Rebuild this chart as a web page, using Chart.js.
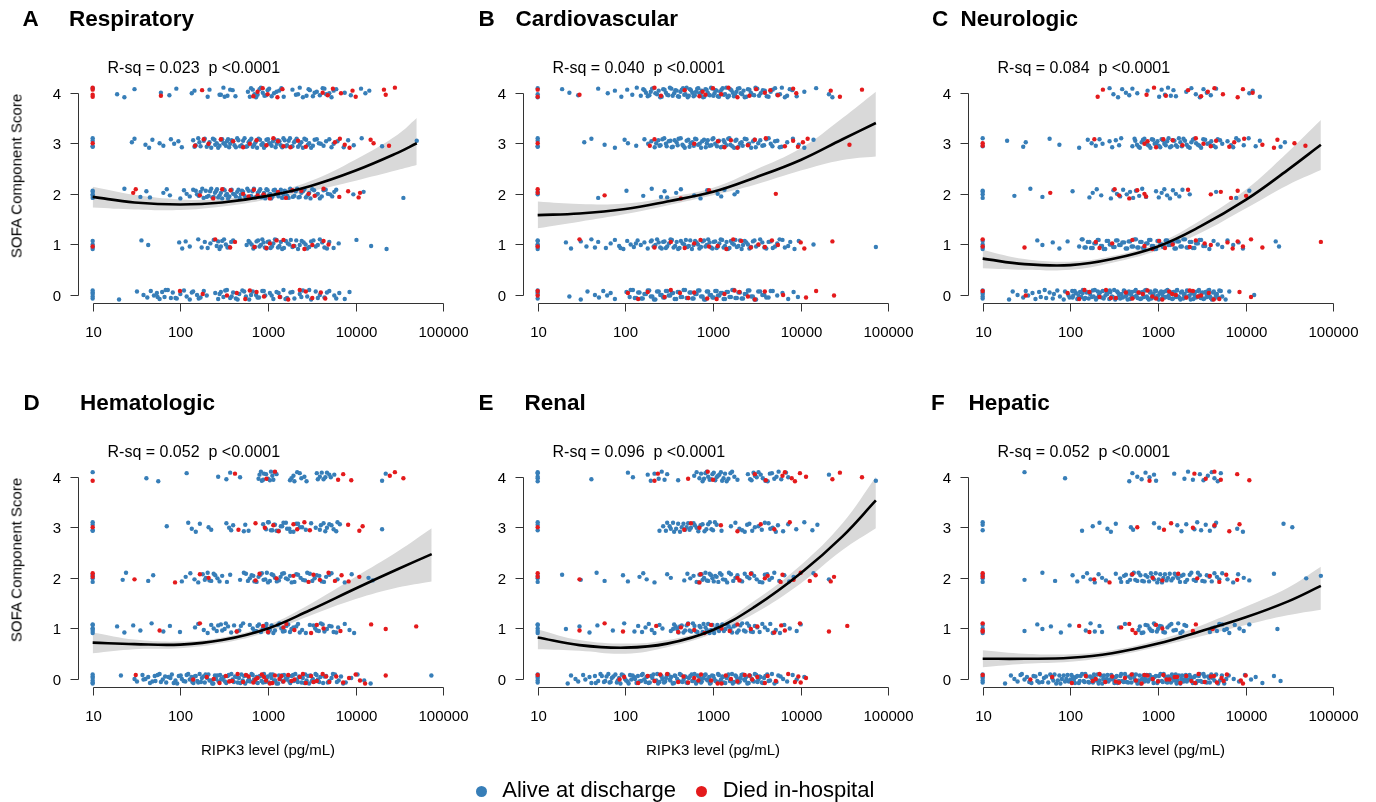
<!DOCTYPE html>
<html>
<head>
<meta charset="utf-8">
<script src="https://cdn.jsdelivr.net/npm/chart.js@4.4.1/dist/chart.umd.min.js"></script>
<style>
  body { margin: 0; background: #fff; width: 1376px; height: 802px; position: relative; overflow: hidden;
         font-family: "Liberation Sans", Arial, sans-serif; color: #000; }
  canvas { position: absolute; }
  .t { position: absolute; white-space: pre; line-height: 1; }
  .dot { position: absolute; border-radius: 50%; }
</style>
</head>
<body>
<script>
// ---- categories / labels ----
const SCORES = [0, 1, 2, 3, 4];
const X_TICKS = [10, 100, 1000, 10000, 100000];
const X_TICK_LABELS = ['10', '100', '1000', '10000', '100000'];
const PANEL_LETTERS = ['A', 'B', 'C', 'D', 'E', 'F'];
const PANEL_TITLES = ['Respiratory', 'Cardiovascular', 'Neurologic', 'Hematologic', 'Renal', 'Hepatic'];
const R_SQ = ['0.023', '0.040', '0.084', '0.052', '0.096', '0.052'];
const P_TEXT = 'p <0.0001';
const GROUPS = ['Alive at discharge', 'Died in-hospital'];
const Y_TITLE = 'SOFA Component Score';
const X_TITLE = 'RIPK3 level (pg/mL)';

// ---- RIPK3 (pg/mL) per SOFA component score, index = score 0..4 ----
// A Respiratory
const respAlive = [
  [10,10,10,10,10,20,32,38,42,46,50,54,58,62,66,72,78,82,91,100,110,118,128,140,155,170,185,200,250,270,290,310,340,370,400,430,470,510,560,610,670,730,790,860,930,1050,1150,1250,1380,1500,1650,1800,2000,2300,2500,2800,3100,3500,3900,4400,5000,5700,6500,7500,8500,
   55,68,88,135,162,280,325,385,450,535,640,760,895,1100,1320,1580,1900,2400,2950,3700,4700,6000],
  [10,10,10,10,36,43,97,105,115,128,160,175,190,205,220,240,260,280,300,330,360,400,570,620,680,740,800,860,920,990,1070,1150,1250,1350,1450,1600,1750,1900,2100,2300,2550,2800,3100,3500,3900,4400,5000,5600,6400,10200,15000,22500,
   600,650,710,770,830,890,960,1030,1110,1200,1300,1400,1520,1680,1820,2000,2200,2420,2680,2950,3300,3700,4150,4700,270,290,315,345,380],
  [10,10,10,10,10,23,35,41,45,64,70,76,100,110,118,128,140,155,170,184,195,210,225,240,255,270,290,310,330,350,375,400,430,460,490,520,560,600,640,690,740,790,840,900,960,1020,1090,1160,1240,1320,1400,1500,1600,1720,1850,2000,2150,2300,2500,2700,2950,3200,3500,3900,4300,4800,5400,6000,9400,12300,35000,
   150,162,178,200,218,232,248,262,280,300,320,340,362,385,415,445,475,505,540,580,620,665,715,765,815,870,930,990,1055,1125,1200,1280,1360,1450,1550,1660,1790,1920,2070,2230,2400,2600,2820,3050,3350,3700,4100,4550,5100,5700],
  [10,10,10,10,28,30,40,44,48,58,64,78,85,95,104,140,150,160,170,185,200,215,235,250,270,290,310,330,350,370,400,430,460,500,540,580,620,670,720,780,840,900,960,1030,1100,1180,1260,1350,1450,1550,1650,1780,1900,2050,2200,2400,2600,2850,3100,3400,3800,4300,5000,5600,6200,7300,8200,9500,11700,20000,49700,
   145,165,190,208,225,245,260,280,300,320,340,360,385,415,445,480,520,560,600,645,695,750,810,870,930,1000,1065,1140,1220,1300,1400,1500,1600,1720,1840,1980,2120,2300,2500,2720,2950,3250,3600,4000,4600,5300],
  [10,19,23,30,60,75,90,135,145,205,215,290,310,345,395,425,590,640,700,730,800,870,950,1030,1170,1340,1510,1900,2080,2300,2750,3000,3250,3600,4200,4600,5300,6000,7500,8800,11500,12900,14300,
   620,670,760,830,910,990,1100,1250,1420,2200,2500,2900,3400,3900,4400,5000,5600,320,370,280]
];
const respDied = [
  [99,340,440,550,740,1360,2300,3200,4000,4500,180,620,900,1700,2700],
  [10,250,370,420,960,1050,1500,1950,2600,4300,4900,700,1250,3200],
  [29,31,167,237,375,520,600,690,890,1300,1600,2400,3400,4300,6500,8200,10800,11200,300,760,1050,1900,2900],
  [10,147,185,210,400,520,740,960,1150,1500,2200,2700,5800,6600,7500,8500,14800,16000,24000,290,620,1300,1800],
  [10,10,10,10,60,177,680,760,870,990,1280,1460,4200,4800,5500,6800,9200,10000,21000,22000,28000]
];
const respFitX = [10, 30, 100, 300, 1000, 3000, 10000, 30000, 49700];
const respFit  = [1.94, 1.83, 1.79, 1.83, 1.96, 2.15, 2.46, 2.81, 3.00];
const respHi   = [2.14, 1.98, 1.89, 1.90, 2.02, 2.25, 2.68, 3.17, 3.50];
const respLo   = [1.73, 1.69, 1.68, 1.75, 1.89, 2.05, 2.26, 2.47, 2.57];

// B Cardiovascular
const cardAlive = [
  [10,10,10,10,23,31,37,45,50,56,62,68,76,103,112,122,133,145,158,172,187,203,220,240,260,280,300,325,350,380,410,445,480,520,560,600,650,700,760,820,880,950,1020,1100,1180,1270,1370,1480,1600,1730,1870,2030,2200,2400,2600,2850,3100,3450,3850,4300,4800,5400,6200,7200,8300,9300,
   115,128,140,152,165,180,195,212,230,250,270,290,312,338,365,395,428,462,500,540,580,625,675,730,790,850,915,985,1060,1140,1225,1320,1425,1540,1660,1800,1950,2120,2300,2500,2720,2970,3280,3650,4050,4550],
  [10,10,10,10,10,10,21,24,31,36,41,45,49,60,68,76,85,95,105,115,125,138,150,165,180,195,210,230,250,270,290,315,340,370,400,430,470,510,550,600,650,700,760,820,880,950,1020,1100,1180,1270,1370,1480,1600,1730,1870,2030,2200,2400,2600,2850,3100,3450,3850,4300,4800,5400,6200,7200,8500,9500,14000,72000,
   200,220,240,260,280,300,328,355,385,415,450,490,530,575,625,675,730,790,850,915,985,1060,1140,1225,1320,1425,1540,1660,1800,1950,2120,2300,2500,2720,2970,3280,3650,4050,4550,5100,5750,6600,7600,88,132],
  [10,10,49,103,160,200,255,280,300,380,430,610,720,860,1130,1240,1350,1760,1900],
  [10,10,10,10,34,41,58,76,98,107,133,165,182,198,216,238,252,278,296,327,348,384,405,448,476,523,555,604,645,706,752,826,871,958,1010,1110,1170,1280,1355,1490,1580,1740,1850,2040,2180,2410,2580,2860,3070,3460,3820,4310,4760,5420,6050,7020,8150,9500,11000,14000,
   225,245,265,290,312,338,365,395,428,462,500,540,580,625,675,730,790,850,915,985,1060,1140,1225,1320,1425,1540,1660,1800,1950,2120,2300,2500,2720,2970,3280,3650,4050,4550,5100,5750],
  [10,10,10,19,23,29,49,63,76,90,105,120,135,150,165,180,195,210,230,250,270,290,310,335,360,385,410,440,470,500,530,560,600,640,680,720,770,820,870,920,980,1040,1100,1170,1250,1330,1420,1520,1620,1730,1850,2000,2150,2300,2500,2700,2950,3200,3500,3900,4300,4800,5400,6100,7000,8000,9000,11000,15000,21000,23000,
   160,172,188,202,220,240,260,280,300,322,347,372,398,425,455,485,515,545,580,620,660,700,745,795,845,895,950,1010,1070,1135,1210,1290,1375,1470,1570,1680,1790,1920,2070,2230,2400,2600,2820,3050,3350,3700,4100,4550,5100,5800,6600,7500]
];
const cardDied = [
  [10,10,107,140,180,280,330,520,610,860,1350,1760,2500,3000,3900,6300,11500,15000,24000,420,1100,2000],
  [10,30,215,330,475,610,720,1130,1420,2100,3300,3900,4700,5500,10000,11000,23000,900,1700,2700],
  [10,10,58,430,900,5200],
  [10,190,215,610,1140,1350,1600,2500,4000,6600,8200,9300,10600,12000,36000,1900,3000],
  [10,10,30,215,255,475,700,760,1000,1240,1900,3100,3900,5500,8200,8900,22000,28000,50000,820,1500,2600,4500]
];
const cardFitX = [10, 30, 100, 300, 1000, 3000, 10000, 30000, 72000];
const cardFit  = [1.58, 1.61, 1.70, 1.85, 2.04, 2.32, 2.67, 3.08, 3.40];
const cardHi   = [1.85, 1.80, 1.81, 1.93, 2.12, 2.47, 2.90, 3.50, 4.02];
const cardLo   = [1.32, 1.45, 1.60, 1.77, 1.97, 2.18, 2.46, 2.67, 2.74];

// C Neurologic
const neuroAlive = [
  [10,10,10,10,10,20,22,25,29,31,33,37,40,44,46,51,53,58,63,65,71,76,84,87,95,98,105,108,116,120,129,134,139,148,153,162,168,180,184,196,205,212,228,234,251,259,278,286,305,316,337,348,370,384,408,422,450,466,494,515,548,566,603,625,664,690,732,760,808,838,890,925,980,1020,1085,1120,1195,1235,1318,1360,1450,1500,1600,1655,1760,1825,1940,2015,2140,2220,2360,2450,2600,2700,2870,2980,3160,3290,3480,3630,3840,4000,4240,4420,4700,5000,5400,5900,6500,12500,
   106,112,124,138,144,158,176,190,200,218,240,264,282,296,325,342,360,395,415,437,458,480,505,530,557,585,614,645,677,711,746,784,823,864,907,952,1000,1050,1100,1160,1220,1280,1340,1410,1480,1550,1630,1710,1800,1880,1980,2080,2180,2290,2410,2530,2650,2790,2930,3070,3220,3380,3560,3740,3920,4120,4330,4560,4850,5200],
  [10,10,10,10,42,48,63,75,93,126,138,150,165,180,195,210,230,250,270,295,320,345,375,410,445,480,520,560,600,650,700,760,820,880,950,1020,1100,1180,1270,1370,1480,1600,1730,1870,2030,2200,2400,2600,2850,3100,3450,3850,4300,4800,5400,6200,7200,8300,9300,22000,24000,
   135,145,158,172,188,205,222,240,260,282,308,332,360,392,428,462,500,540,580,625,675,730,790,850,915,985,1060,1140,1225,1320,1425,1540,1660,1800,1950,2120,2300,2500,2720,2970,3280],
  [10,10,10,10,23,35,48,106,165,180,200,225,290,310,340,370,400,440,480,520,560,610,660,730,950,1020,1100,1180,1270,1370,1480,1600,1750,1900,2300,4600,7800,11000],
  [10,10,19,29,31,58,75,126,158,175,195,215,233,280,300,330,360,380,510,550,600,650,700,760,820,880,950,1020,1100,1180,1270,1370,1480,1600,1730,1870,2030,2200,2400,2600,2850,3100,3450,3850,4300,4800,5400,6200,7200,8300,9500,10800,13000,14500,25000,28000,
   540,575,620,675,730,790,850,915,985,1060,1140,1225,1320,1425,1540,1660,1800,1950,2120,2300,2500,2720,2970,3280,3650,4050,4550,5100,6800,7800],
  [280,310,350,390,430,470,510,580,760,1030,1100,1200,1300,1400,1500,1600,2100,2400,2700,3000,3300,3600,4000,4600,11000,12000,14500]
];
const neuroDied = [
  [10,31,93,126,165,215,255,330,430,510,670,760,860,1120,1340,1600,2100,2500,3100,3800,5000,8500,11500,145,290,600,950,1450,2300,2850,4300],
  [10,10,30,195,215,300,510,700,860,1030,1470,2300,2700,4000,6200,7100,8100,9300,11500,15500,72000,1200,3400],
  [59,320,360,470,580,700,730,2200,4000,5200,6800,8100,10100],
  [10,10,188,700,760,950,1470,1900,2700,4000,4600,6500,7400,9600,15500,21000,23000,36000,48000,1150,3300],
  [205,235,740,900,1230,2200,3100,3700,4400,5500,8100,9300,12000]
];
const neuroFitX = [10, 30, 100, 300, 1000, 3000, 10000, 30000, 72000];
const neuroFit  = [0.72, 0.61, 0.59, 0.71, 0.96, 1.35, 1.88, 2.47, 2.97];
const neuroHi   = [0.89, 0.71, 0.66, 0.77, 1.03, 1.47, 2.08, 2.82, 3.46];
const neuroLo   = [0.53, 0.50, 0.50, 0.64, 0.88, 1.22, 1.71, 2.17, 2.47];

// D Hematologic
const hemaAlive = [
  [10,10,10,10,10,10,21,30,32,37,38,43,45,51,52,58,60,67,69,77,80,88,92,101,104,114,118,128,134,141,150,156,166,172,183,190,202,209,224,231,248,256,273,284,302,313,334,346,369,382,408,421,451,466,497,515,549,568,606,627,669,692,738,764,815,843,899,930,993,1027,1095,1133,1209,1251,1334,1380,1473,1523,1625,1681,1794,1856,1980,2048,2185,2261,2412,2495,2662,2754,2938,3040,3243,3356,3580,3700,3950,4250,4600,5000,5500,6100,6800,7700,8900,10500,12500,14800,73000,
   40,48,55,63,73,84,96,109,123,137,145,160,176,194,215,238,264,292,323,357,395,437,483,533,589,650,718,793,876,967,1068,1179,1302,1437,1586,1751,1933,2133,2354,2598,2866,3160,3480,3830,4400,4800,5300,5800,6400,7200],
  [10,10,10,10,10,10,19,23,29,35,47,64,76,99,147,160,185,205,225,240,260,290,320,350,380,410,470,520,700,760,830,900,960,1050,1150,1300,1420,1550,1700,1850,2100,2300,3300,3600,4000,4400,5000,5600,6300,7500,8500,9600,
   620,670,730,790,870,940,1010,1100,1200,1350,1480,1620,1780,1950,2200,2450,2700,3000,3450,3800,4200,4700,5300,6000,270,300,330,440,490],
  [10,10,10,10,22,24,43,49,104,115,130,145,160,180,195,215,240,265,300,340,370,480,530,590,650,700,780,850,930,1000,1100,1200,1330,1450,1600,1780,2000,2200,2500,2800,3200,3600,4100,4600,5300,6200,7500,9000,14000,15600,
   560,620,680,740,820,890,970,1050,1150,1260,1390,1520,1680,1860,2100,2350,2650,3000,3400,3850,4350,5000,190,205,225,250,280],
  [10,10,10,10,70,123,135,150,167,210,225,335,360,400,530,880,950,1000,1080,1170,1250,1400,1500,1650,1800,2100,2300,3900,4300,4700,5300,6000,6600,20000,
   1020,1120,1200,1320,1450,1600,1750,1950,2200,2450,2700,3100,3500,4000,4500,5000,5600,6200,380,550,600],
  [10,41,56,118,270,335,370,480,800,850,900,1000,1080,1150,1250,1780,1950,2150,2400,2750,3600,3900,4300,4700,5200,5700,20000,22000,
   780,830,880,950,1050,1120,1200,1850,2000,2300,2600,3700,4100,4500,5000]
];
const hemaDied = [
  [31,140,200,280,330,390,450,520,600,680,760,850,950,1050,1200,1350,1500,1700,2000,2300,2700,3100,3600,4200,5000,6000,7200,8400,10000,11200,12800,22000,
   240,360,560,720,900,1120,1420,1850,2500,3300,4600],
  [58,167,440,880,1000,1500,1620,2000,3100,3600,4300,6700,15000,22000,49000],
  [10,10,30,87,167,210,720,800,1250,1950,2900,3300,3900,4900,5800,6900,8300,11000],
  [10,460,720,920,1150,1320,1950,2150,2600,3000,8200,11000,12000],
  [10,420,960,1200,6300,7200,8900,24500,28000,35000]
];
const hemaFitX = [10, 30, 100, 300, 1000, 3000, 10000, 30000, 73600];
const hemaFit  = [0.72, 0.69, 0.68, 0.77, 1.00, 1.36, 1.79, 2.17, 2.47];
const hemaHi   = [0.92, 0.78, 0.74, 0.82, 1.07, 1.48, 2.02, 2.52, 2.98];
const hemaLo   = [0.51, 0.59, 0.61, 0.71, 0.93, 1.25, 1.58, 1.81, 1.93];

// E Renal
const renalAlive = [
  [10,10,10,10,10,22,24,27,29,33,35,39,41,45,49,52,57,61,66,70,77,82,88,95,99,106,113,117,126,134,139,151,158,170,177,190,203,209,226,236,255,264,285,297,320,333,360,372,404,418,447,480,497,530,571,590,640,668,716,744,806,842,905,940,1010,1062,1140,1190,1275,1330,1432,1500,1610,1680,1800,1890,2020,2110,2270,2380,2550,2660,2860,3000,3220,3370,3600,3820,4150,4470,5020,5550,6300,7000,8100,9000,11000,
   46,54,59,64,68,73,80,85,91,102,109,121,129,144,154,164,174,184,196,216,231,245,259,276,291,309,326,347,366,390,411,432,461,488,514,550,580,615,652,692,730,775,824,873,922,975,1035,1100,1165,1232,1300,1380,1466,1555,1645,1740,1845,1955,2065,2190,2320,2465,2610,2760,2930,3110,3290,3480,3710,3960,4300,4700,5300,5900],
  [10,10,10,10,10,21,30,39,48,72,97,127,140,155,170,185,200,215,245,265,330,360,390,420,460,500,540,590,640,700,760,820,880,950,1030,1120,1220,1330,1450,1580,1720,1880,2050,2250,2450,2700,3000,3400,3900,4500,5200,5800,6500,7500,9000,10000,
   350,375,405,440,480,520,565,615,665,720,780,850,915,985,1075,1170,1275,1390,1510,1650,1800,1960,2150,2350,2580,2850,3200,3650,4200,4800],
  [10,10,10,19,31,47,58,94,107,145,160,175,215,300,330,470,510,550,600,650,700,760,820,880,950,1020,1100,1200,1300,1450,1600,1800,2050,2300,2600,2950,3400,3900,4400,5000,5700,6500,7400,8300,14000,21000,
   690,740,790,850,915,985,1060,1150,1250,1380,1520,1700,1900,2150,2450,2750,3150,3650,4150,4700],
  [10,10,10,245,270,300,330,360,400,440,480,520,560,620,680,760,840,920,1000,1100,1250,1600,1800,2000,2300,2600,3000,3600,4300,4800,5500,6300,7200,8900,11000,13600,15500,
   290,320,350,380,420,460,500,540,600,650,720,800,880,960,1050,2150,2450,2800,3300,3900,4500,5200],
  [10,10,10,10,10,41,107,122,180,195,215,240,260,280,300,400,610,650,700,760,820,880,950,1020,1100,1180,1270,1370,1500,1650,1900,2500,2750,3000,3300,3700,4200,4700,5300,6000,6800,7200,21000,72000,
   730,790,850,915,985,1060,1140,1230,1320,1430,1580,1750,2650,2900,3150,3500,3950,4450,5000,5600]
];
const renalDied = [
  [10,86,97,140,180,215,300,400,460,520,610,730,950,1130,1400,1600,1900,2300,2800,3200,3900,4200,5200,7200,8600,9400,10000,11500,250,680,1250,2600],
  [30,58,94,225,400,430,520,610,800,950,1250,1550,1900,2700,3200,5000,6000,6600,9800,21000,34000],
  [10,10,30,700,720,1900,2000,2700,3900,4200,5900,6200,8300,10000,12700,14800,22000,24000],
  [10,470,560,700,1230,1900,3500,5000,7500],
  [215,235,520,870,1000,3000,4000,6200,6600,7900,8600,9800,11500,23000,28000,50000]
];
const renalFitX = [10, 30, 100, 300, 1000, 3000, 10000, 30000, 72000];
const renalFit  = [0.82, 0.67, 0.62, 0.70, 0.97, 1.43, 2.09, 2.82, 3.53];
const renalHi   = [0.98, 0.77, 0.70, 0.77, 1.03, 1.55, 2.25, 3.08, 4.00];
const renalLo   = [0.59, 0.56, 0.50, 0.63, 0.90, 1.30, 1.89, 2.55, 2.98];

// F Hepatic
const hepAlive = [
  [10,10,10,10,10,18,21,23,25,27,30,32,36,38,42,45,48,53,56,62,66,72,77,84,90,96,103,110,116,125,131,142,148,160,168,181,190,204,215,231,242,260,272,293,306,330,346,372,390,420,440,474,497,535,560,604,632,682,713,770,805,868,910,980,1025,1105,1160,1245,1310,1405,1480,1590,1670,1795,1885,2025,2130,2290,2400,2580,2710,2920,3060,3300,3460,3720,3900,4200,4600,5100,5700,6400,7300,8400,9800,11500,13000,15500,21000,25000,
   28,34,40,44,50,59,64,69,75,80,87,93,100,107,113,120,128,136,145,154,164,175,186,198,210,223,237,252,266,283,300,318,338,358,380,405,430,457,485,515,548,582,618,657,698,742,788,837,890,945,1003,1066,1132,1203,1278,1358,1442,1532,1628,1730,1840,1955,2075,2205,2345,2490,2650,2815,2990,3180,3380,3600,3820,4050,4400,4850,5350,6000],
  [10,10,10,30,42,48,60,78,98,150,170,190,215,230,360,420,600,650,720,800,860,920,1000,1100,1200,1350,1500,1700,1900,2100,3900,4400,5000,5700,6500,7500,8500,9500,11000,23000,
   620,680,760,830,900,970,1050,1150,1280,1420,1600,1800,2000,4100,4700,5400,6100],
  [10,10,10,10,30,48,67,106,120,140,155,170,190,210,230,255,330,370,410,450,500,550,600,660,720,790,860,940,1020,1110,1200,1300,1420,1550,1700,1850,2050,2300,2550,2850,3200,3600,4100,4700,5400,6200,7200,8200,9500,11000,21000,49000,72000,
   380,430,480,530,580,630,690,760,830,900,980,1060,1150,1250,1360,1480,1620,1780,1950,2150,2400,2700,3000,3400,3850,4400,5000],
  [10,10,10,136,180,215,265,290,330,490,520,900,1030,1660,1850,2100,2600,2800,3100,3500,3900,4400,4600,8000,9300,27000,34000],
  [30,87,470,510,580,650,720,800,900,950,1530,2000,2200,2500,3000,3300,3700,4100,4400,4800,5200]
];
const hepDied = [
  [10,35,62,104,150,180,215,250,300,360,420,500,560,650,760,870,1000,1150,1350,1550,1800,2100,2400,2900,3400,4000,4700,5300,6100,8800,9300,10000,
   195,330,700,1250,1650,2650,4350,5600],
  [10,10,10,126,165,380,470,510,555,950,1120,2500,2700,4200],
  [10,10,187,280,510,870,1120,1700,2800,3900,5000,6000,8000],
  [580,1170,1410,2500,4400,6500,8500],
  [800,2600,3500,4400,5200,8000,11000]
];
const hepFitX = [10, 30, 100, 300, 1000, 3000, 10000, 30000, 72000];
const hepFit  = [0.40, 0.40, 0.42, 0.51, 0.70, 0.94, 1.22, 1.53, 1.84];
const hepHi   = [0.57, 0.50, 0.49, 0.57, 0.77, 1.05, 1.43, 1.80, 2.22];
const hepLo   = [0.23, 0.30, 0.34, 0.45, 0.64, 0.84, 1.07, 1.26, 1.37];

// ---- styles ----
const BLUE = '#377EB8';
const RED = '#E41A1C';
const BAND = '#D9D9D9';
const AXIS_COLOR = '#333';
const FONT = '"Liberation Sans", Arial, sans-serif';
// vertical jitter of the points around their integer score (display only)
const JITTER = [0.05, -0.07, 0.02, 0.09, -0.03, -0.09, 0.07, 0.0, -0.05, 0.08, -0.01, 0.04, -0.08, 0.06, -0.04, 0.1, -0.06];

// layout
const COL_X = [0, 445, 890];
const ROW_Y = [0, 384];
const CANVAS_W = 470, CANVAS_H = 384;
const PAD = {left: 79, top: 84.6, right: 24, bottom: 80.9};
const LETTER_X = [22.5, 33.5, 42, 23.5, 33.5, 41];
const TITLE_X = [69, 70.5, 70.5, 80, 79.5, 78.5];

const PANELS = [
  {alive: respAlive,  died: respDied,  fx: respFitX,  fit: respFit,  hi: respHi,  lo: respLo},
  {alive: cardAlive,  died: cardDied,  fx: cardFitX,  fit: cardFit,  hi: cardHi,  lo: cardLo},
  {alive: neuroAlive, died: neuroDied, fx: neuroFitX, fit: neuroFit, hi: neuroHi, lo: neuroLo},
  {alive: hemaAlive,  died: hemaDied,  fx: hemaFitX,  fit: hemaFit,  hi: hemaHi,  lo: hemaLo},
  {alive: renalAlive, died: renalDied, fx: renalFitX, fit: renalFit, hi: renalHi, lo: renalLo},
  {alive: hepAlive,   died: hepDied,   fx: hepFitX,   fit: hepFit,   hi: hepHi,   lo: hepLo}
];

function toPoints(rows, shift) {
  const out = [];
  rows.forEach((vals, s) => {
    vals.forEach((v, i) => {
      out.push({x: v, y: SCORES[s] + JITTER[(i + s * 5 + shift) % JITTER.length]});
    });
  });
  return out;
}

function toLine(xs, ys) {
  return xs.map((x, i) => ({x: x, y: ys[i]}));
}

// R-like axes: line spans first..last tick, ticks point outward
const rAxes = {
  id: 'rAxes',
  afterDraw(chart) {
    const {ctx, chartArea: a, scales: {x, y}} = chart;
    ctx.save();
    ctx.strokeStyle = AXIS_COLOR;
    ctx.lineWidth = 1;
    ctx.fillStyle = '#000';
    ctx.font = '15px ' + FONT;
    const by = Math.round(a.bottom) + 0.5;
    const xs = X_TICKS.map(v => Math.round(x.getPixelForValue(v)) + 0.5);
    const lx = Math.round(a.left) - 0.5;
    const ys = SCORES.map(v => Math.round(y.getPixelForValue(v)) + 0.5);
    ctx.beginPath();
    ctx.moveTo(xs[0], by);
    ctx.lineTo(xs[xs.length - 1], by);
    xs.forEach(px => { ctx.moveTo(px, by); ctx.lineTo(px, by + 8); });
    ctx.moveTo(lx, ys[0]);
    ctx.lineTo(lx, ys[ys.length - 1]);
    ys.forEach(py => { ctx.moveTo(lx, py); ctx.lineTo(lx - 8, py); });
    ctx.stroke();
    ctx.textAlign = 'center';
    ctx.textBaseline = 'alphabetic';
    xs.forEach((px, i) => ctx.fillText(X_TICK_LABELS[i], px, a.bottom + 34.2));
    ctx.textAlign = 'right';
    ys.forEach((py, i) => ctx.fillText(String(SCORES[i]), lx - 17.5, py + 5.4));
    ctx.restore();
  }
};

function addText(str, left, baseline, size, bold) {
  const d = document.createElement('div');
  d.className = 't';
  d.textContent = str;
  d.style.fontSize = size + 'px';
  d.style.left = left + 'px';
  d.style.top = (baseline - 0.8465 * size) + 'px';
  if (bold) d.style.fontWeight = 'bold';
  document.body.appendChild(d);
  return d;
}

PANELS.forEach((p, k) => {
  const col = k % 3, row = Math.floor(k / 3);
  const ox = COL_X[col], oy = ROW_Y[row];

  const cv = document.createElement('canvas');
  cv.width = CANVAS_W;
  cv.height = CANVAS_H;
  cv.style.left = ox + 'px';
  cv.style.top = oy + 'px';
  document.body.appendChild(cv);

  new Chart(cv, {
    type: 'scatter',
    data: {
      datasets: [
        {type: 'line', data: toLine(p.fx, p.fit), borderColor: '#000', borderWidth: 2.6,
         pointRadius: 0, tension: 0.4, fill: false, order: 0},
        {label: GROUPS[1], data: toPoints(p.died, 9), backgroundColor: RED,
         pointRadius: 2.2, borderWidth: 0, order: 1},
        {label: GROUPS[0], data: toPoints(p.alive, 0), backgroundColor: BLUE,
         pointRadius: 2.2, borderWidth: 0, order: 2},
        {type: 'line', data: toLine(p.fx, p.hi), borderColor: 'rgba(0,0,0,0)', borderWidth: 0,
         pointRadius: 0, tension: 0.4, fill: '+1', backgroundColor: BAND, order: 3},
        {type: 'line', data: toLine(p.fx, p.lo), borderColor: 'rgba(0,0,0,0)', borderWidth: 0,
         pointRadius: 0, tension: 0.4, fill: false, order: 3}
      ]
    },
    options: {
      responsive: false,
      animation: false,
      devicePixelRatio: 1,
      events: [],
      layout: {padding: PAD},
      plugins: {legend: {display: false}, tooltip: {enabled: false}},
      scales: {
        x: {type: 'logarithmic', min: Math.pow(10, 0.844), max: Math.pow(10, 5.03), display: false},
        y: {type: 'linear', min: -0.16, max: 4.16, display: false}
      }
    },
    plugins: [rAxes]
  });

  addText(PANEL_LETTERS[k], ox + LETTER_X[k], oy + 27, 22.5, true);
  addText(PANEL_TITLES[k], ox + TITLE_X[k], oy + 27, 22.5, true);
  addText('R-sq = ' + R_SQ[k] + '  ' + P_TEXT, ox + 107.5, oy + 73.7, 16, false);

  if (col === 0) {
    const yl = addText(Y_TITLE, 0, 0, 15, false);
    yl.style.left = (ox + 15.5) + 'px';
    yl.style.top = (oy + 175.7) + 'px';
    yl.style.transform = 'translate(-50%, -50%) rotate(-90deg)';
  }
  if (row === 1) {
    const xl = addText(X_TITLE, 0, oy + 371, 15, false);
    xl.style.left = (ox + 268) + 'px';
    xl.style.transform = 'translateX(-50%)';
  }
});

// legend
[[BLUE, 481.7, 502.3, GROUPS[0]], [RED, 701.7, 722.7, GROUPS[1]]].forEach(([c, dx, tx, label]) => {
  const dot = document.createElement('div');
  dot.className = 'dot';
  dot.style.background = c;
  dot.style.width = '11px';
  dot.style.height = '11px';
  dot.style.left = (dx - 5.5) + 'px';
  dot.style.top = (791 - 5.5) + 'px';
  document.body.appendChild(dot);
  addText(label, tx, 797.5, 22, false);
});
</script>
</body>
</html>
